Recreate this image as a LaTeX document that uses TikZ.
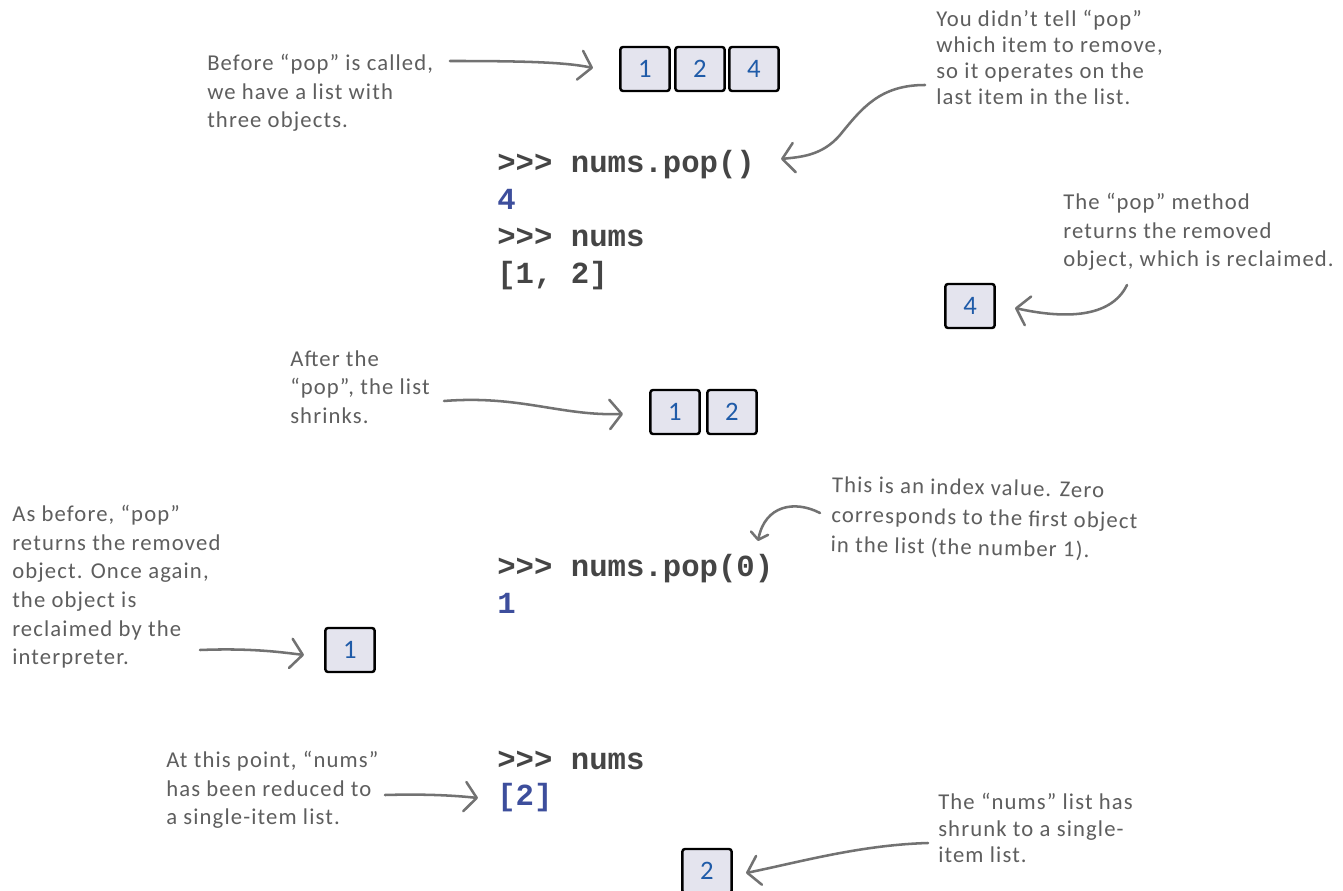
\documentclass[tikz,border=0pt]{standalone}
\usepackage{fontspec}
\setmainfont{Carlito}[LetterSpace=5]
\newfontfamily\digitfont{Carlito}
\newfontfamily\codefont{Liberation Mono}
\usetikzlibrary{arrows.meta}
\definecolor{annoc}{HTML}{5E5E5E}
\definecolor{arrc}{HTML}{727272}
\definecolor{codec}{HTML}{454545}
\definecolor{outc}{HTML}{3D4E9C}
\definecolor{boxfill}{HTML}{E4E4EE}
\definecolor{digitc}{HTML}{1F5BA8}
\begin{document}
\begin{tikzpicture}[x=0.75pt,y=-0.75pt,
  anno/.style={anchor=north west, align=left, inner sep=0pt, text=annoc, font=\fontsize{17}{21.5}\selectfont},
  codeln/.style={anchor=base west, inner sep=0pt, text=codec, font=\codefont\bfseries\fontsize{23}{28}\selectfont},
  outln/.style={codeln, text=outc},
  cell/.style={draw=black, line width=1.8pt, fill=boxfill, rounded corners=2pt, minimum width=37pt, minimum height=33pt, inner sep=0pt, text=digitc, font=\digitfont\fontsize{20}{24}\selectfont},
  pointer/.style={draw=arrc, line width=1.9pt, line cap=round, -{Straight Barb[length=9pt,width=22pt,round]}},
  smallpointer/.style={pointer, -{Straight Barb[length=5pt,width=13pt,round]}},
]
\useasboundingbox (0,0) rectangle (1343,891);
\fill[white] (0,0) rectangle (1343,891);

% code
\node[codeln] (c1) at (497,173) {>{}>{}> nums.pop()};
\node[outln]  (c2) at (497,210) {4};
\node[codeln] (c3) at (497,247) {>{}>{}> nums};
\node[codeln] (c4) at (497,284) {[1, 2]};
\node[codeln] (c5) at (497,576) {>{}>{}> nums.pop(0)};
\node[outln]  (c6) at (497,613) {1};
\node[codeln] (c7) at (497,769) {>{}>{}> nums};
\node[outln]  (c8) at (497,805) {[2]};

% boxes
\node[cell] (l1a) at (645,69) {1};
\node[cell] (l1b) at (700,69) {2};
\node[cell] (l1c) at (754,69) {4};
\node[cell] (r4)  at (970,306) {4};
\node[cell] (l2a) at (675,412) {1};
\node[cell] (l2b) at (732,412) {2};
\node[cell] (r1)  at (350,650) {1};
\node[cell] (l3)  at (707,871) {2};

% annotations
\node[anno] (t1) at (207,54) {Before “pop” is called,\\we have a list with\\three objects.};
\node[anno, font=\fontsize{17}{19.5}\selectfont] (t2) at (936,10) {You didn’t tell “pop”\\which item to remove,\\so it operates on the\\last item in the list.};
\node[anno] (t3) at (1063,193) {The “pop” method\\returns the removed\\object, which is reclaimed.};
\node[anno] (t4) at (290,350) {After the\\“pop”, the list\\shrinks.};
\node[anno, rotate=-1.2, font=\fontsize{17}{22.5}\selectfont] (t5) at (832,476) {This is an index value. Zero\\corresponds to the first object\\in the list (the number 1).};
\node[anno] (t6) at (12,505) {As before, “pop”\\returns the removed\\object. Once again,\\the object is\\reclaimed by the\\interpreter.};
\node[anno] (t7) at (166,751) {At this point, “nums”\\has been reduced to\\a single-item list.};
\node[anno, font=\fontsize{17}{20}\selectfont] (t8) at (938,793) {The “nums” list has\\shrunk to a single-\\item list.};

% arrow endpoints
\coordinate (a1s) at (450,61);  \coordinate (a1e) at (593,68);
\coordinate (a2s) at (925,85);  \coordinate (a2e) at (781,159);
\coordinate (a3s) at (1127,285); \coordinate (a3e) at (1015,308);
\coordinate (a4s) at (444,401); \coordinate (a4e) at (623,414);
\coordinate (a5s) at (820,513); \coordinate (a5e) at (758,541);
\coordinate (a6s) at (200,650); \coordinate (a6e) at (304,655);
\coordinate (a7s) at (385,795); \coordinate (a7e) at (478,798);
\coordinate (a8s) at (928,843); \coordinate (a8e) at (746,873);

\draw[pointer] (a1s) .. controls (520,61) and (565,62) .. (a1e);
\draw[pointer] (a2s) .. controls (880,85) and (862,108) .. (840,135) .. controls (822,156) and (800,157) .. (a2e);
\draw[pointer] (a3s) .. controls (1110,320) and (1060,318) .. (a3e);
\draw[pointer] (a4s) .. controls (520,395) and (560,416) .. (a4e);
\draw[smallpointer] (a5s) .. controls (795,500) and (765,505) .. (a5e);
\draw[pointer] (a6s) .. controls (250,648) and (280,652) .. (a6e);
\draw[pointer] (a7s) .. controls (420,794) and (450,795) .. (a7e);
\draw[pointer] (a8s) .. controls (860,845) and (800,862) .. (a8e);
\end{tikzpicture}
\end{document}
